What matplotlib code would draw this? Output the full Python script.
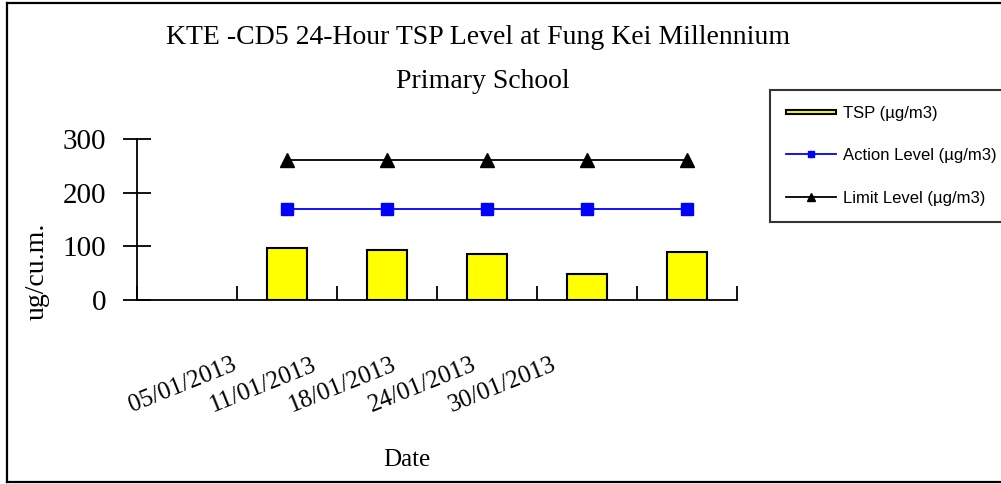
import matplotlib.pyplot as plt
import matplotlib.patches as mpatches
from matplotlib.legend_handler import HandlerPatch
from matplotlib.lines import Line2D

dates = ['05/01/2013', '11/01/2013', '18/01/2013', '24/01/2013', '30/01/2013']
tsp = [97, 93, 85, 48, 89]
action_level = [169, 169, 169, 169, 169]
limit_level = [260, 260, 260, 260, 260]

serif = 'Liberation Serif'
sans = 'Liberation Sans'

fig = plt.figure(figsize=(10.01, 4.84), dpi=100)
ax = fig.add_axes([0.1369, 0.3802, 0.5994, 0.3326])

# first category slot is left empty, data sits in slots 1..5
xs = list(range(1, len(dates) + 1))
bars = ax.bar(xs, tsp, width=0.4, color='#ffff00', edgecolor='black', linewidth=1.5, zorder=2)
ax.plot(xs, action_level, color='#0000ff', lw=1.3, marker='s', ms=8, zorder=3)
ax.plot(xs, limit_level, color='black', lw=1.3, marker='^', ms=10, zorder=3)

ax.set_xlim(-0.5, len(dates) + 0.5)
ax.set_ylim(0, 300)
ax.set_yticks([0, 100, 200, 300])
ax.tick_params(axis='y', direction='inout', length=20, width=1.3, pad=12, labelsize=21)
for lab in ax.get_yticklabels():
    lab.set_fontfamily(serif)

# category boundaries as minor ticks, labels on major ticks
ax.set_xticks([i - 0.5 for i in range(len(dates) + 2)], minor=True)
label_x = [0.48 + 0.8 * i for i in range(len(dates))]
ax.set_xticks(label_x)
ax.set_xticklabels(dates, rotation=22, ha='right', va='center', rotation_mode='anchor',
                   fontfamily=serif, fontsize=18)
ax.tick_params(axis='x', which='major', length=0, pad=46)
ax.tick_params(axis='x', which='minor', direction='in', length=10, width=1.3)

for s in ['top', 'right']:
    ax.spines[s].set_visible(False)
for s in ['left', 'bottom']:
    ax.spines[s].set_linewidth(1.3)

fig.text(0.478, 1 - 38 / 484, 'KTE -CD5 24-Hour TSP Level at Fung Kei Millennium',
         ha='center', va='center', fontfamily=serif, fontsize=20)
fig.text(0.482, 1 - 82 / 484, 'Primary School', ha='center', va='center',
         fontfamily=serif, fontsize=20)
fig.text(37 / 1001, 1 - 271 / 484, 'ug/cu.m.', rotation=90, ha='center', va='center',
         fontfamily=serif, fontsize=20)
fig.text(407 / 1001, 1 - 460 / 484, 'Date', ha='center', va='center',
         fontfamily=serif, fontsize=18)


def thin_bar(legend, orig_handle, xdescent, ydescent, width, height, fontsize):
    return mpatches.Rectangle((-xdescent, -ydescent + height * 0.3), width, height * 0.4)


h_tsp = mpatches.Patch(facecolor='#ffff00', edgecolor='black', linewidth=1.5)
h_act = Line2D([], [], color='#0000ff', lw=1.3, marker='s', ms=5)
h_lim = Line2D([], [], color='black', lw=1.3, marker='^', ms=6)
leg = fig.legend([h_tsp, h_act, h_lim],
                 ['TSP (µg/m3)', 'Action Level (µg/m3)', 'Limit Level (µg/m3)'],
                 loc='upper left', bbox_to_anchor=(770 / 1001, 1 - 90 / 484),
                 prop={'family': sans, 'size': 12}, frameon=True, fancybox=False,
                 borderpad=0.95, labelspacing=1.65, handlelength=3.0, handletextpad=0.45,
                 borderaxespad=0, handler_map={mpatches.Patch: HandlerPatch(patch_func=thin_bar)})
leg.get_frame().set_edgecolor('black')
leg.get_frame().set_linewidth(1.5)

# outer chart border (open on the right, as in the source)
fig.add_artist(Line2D([7 / 1001, 7 / 1001], [2 / 484, 1 - 3 / 484], color='black', lw=1.6))
fig.add_artist(Line2D([7 / 1001, 1], [1 - 3 / 484, 1 - 3 / 484], color='black', lw=1.6))
fig.add_artist(Line2D([7 / 1001, 1], [2 / 484, 2 / 484], color='black', lw=1.6))

fig.savefig('out.png', dpi=100)
